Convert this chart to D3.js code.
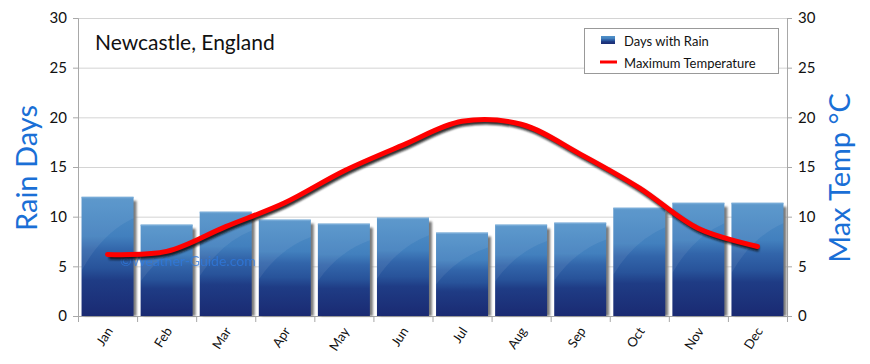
<!DOCTYPE html>
<html><head><meta charset="utf-8">
<script src="https://cdn.jsdelivr.net/npm/d3@7"></script>
<style>
body{margin:0;background:#fff;}
text{font-family:"Comic Sans MS","Lato","DejaVu Sans",sans-serif;}
</style></head>
<body><svg id="c" width="870" height="364"></svg>
<script>
const months = ["Jan","Feb","Mar","Apr","May","Jun","Jul","Aug","Sep","Oct","Nov","Dec"];
const rainDays = [12.0, 9.2, 10.5, 9.7, 9.3, 9.9, 8.4, 9.2, 9.4, 10.9, 11.4, 11.4];
const maxTemp = [6.2, 6.5, 9.0, 11.4, 14.6, 17.2, 19.6, 19.3, 16.3, 12.9, 8.8, 7.0];
const yTicks = [0,5,10,15,20,25,30];
const title = "Newcastle, England";
const seriesNames = ["Days with Rain","Maximum Temperature"];

const svg = d3.select("#c");
const L = 78, R = 787, T = 18, B = 316;
const x = d3.scaleBand().domain(months).range([L,R]).paddingInner(0.12).paddingOuter(0.06);
const yL = d3.scaleLinear().domain([0,30]).range([B,T]);
const yR = d3.scaleLinear().domain([0,30]).range([B,T]);

const defs = svg.append("defs");
const g1 = defs.append("linearGradient").attr("id","barG").attr("x1",0).attr("y1",0).attr("x2",0).attr("y2",1);
[[0,"#5292c9"],[0.33,"#4280be"],[0.45,"#3265aa"],[0.6,"#28539a"],[0.7,"#1f3c85"],[1,"#1a2a72"]]
  .forEach(([o,c])=>g1.append("stop").attr("offset",o).attr("stop-color",c));
const sh = defs.append("filter").attr("id","sh").attr("x","-20%").attr("y","-20%").attr("width","150%").attr("height","150%");
sh.append("feGaussianBlur").attr("stdDeviation",1.2);
const lsh = defs.append("filter").attr("id","lsh").attr("x","-10%").attr("y","-20%").attr("width","120%").attr("height","150%");
lsh.append("feGaussianBlur").attr("stdDeviation",1.3);

// grid
svg.append("g").selectAll("line").data(yTicks).join("line")
  .attr("x1",L).attr("x2",R).attr("y1",d=>yL(d)+0.5).attr("y2",d=>yL(d)+0.5)
  .attr("stroke","#d4d4d4").attr("stroke-width",1);

// axes
const axL = svg.append("g").attr("transform",`translate(${L},0)`)
  .call(d3.axisLeft(yL).tickValues(yTicks).tickSize(5).tickPadding(6));
const axR = svg.append("g").attr("transform",`translate(${R},0)`)
  .call(d3.axisRight(yR).tickValues(yTicks).tickSize(5).tickPadding(6));
[axL,axR].forEach(a=>{
  a.select(".domain").attr("stroke","#a8a8a8");
  a.selectAll(".tick line").attr("stroke","#a8a8a8");
  a.selectAll(".tick text").attr("fill","#111").attr("font-size",15)
   .style("font-family",'"Comic Sans MS","Lato","DejaVu Sans",sans-serif');
});
const axB = svg.append("g").attr("transform",`translate(0,${B})`)
  .call(d3.axisBottom(x).tickSize(0).tickPadding(0));
axB.select(".domain").attr("stroke","#a8a8a8");
axB.selectAll(".tick text").remove();
const bounds = months.map((m,i)=> x(m) - x.step()*x.paddingInner()/2);
bounds.push(R);
bounds[0] = L;
svg.append("g").selectAll("line").data(bounds).join("line")
  .attr("x1",d=>d+0.5).attr("x2",d=>d+0.5).attr("y1",B).attr("y2",B+6).attr("stroke","#a8a8a8");
// month labels
svg.append("g").selectAll("text").data(months).join("text")
  .attr("transform",d=>`translate(${x(d)+x.bandwidth()/2+6},${B+15}) rotate(-57)`)
  .attr("text-anchor","end").attr("font-size",13).attr("fill","#111").text(d=>d);

// bars
const bars = svg.append("g");
bars.selectAll("rect.s").data(rainDays).join("rect").attr("class","s")
  .attr("x",(d,i)=>x(months[i])+3).attr("y",d=>yL(d)+4)
  .attr("width",x.bandwidth()).attr("height",d=>B-yL(d)-4)
  .attr("fill","#7a7a7a").attr("filter","url(#sh)");
bars.selectAll("rect.b").data(rainDays).join("rect").attr("class","b")
  .attr("x",(d,i)=>x(months[i])).attr("y",d=>yL(d))
  .attr("width",x.bandwidth()).attr("height",d=>B-yL(d))
  .attr("fill","url(#barG)");
bars.selectAll("path.gl").data(rainDays).join("path").attr("class","gl")
  .attr("d",(d,i)=>{
    const x0=x(months[i]), w=x.bandwidth(), y0=yL(d), h=B-yL(d);
    return `M${x0},${y0} L${x0+w},${y0} L${x0+w},${y0+h*0.18} Q${x0+w*0.4},${y0+h*0.3} ${x0},${y0+h*0.62} Z`;
  }).attr("fill","#ffffff").attr("opacity",0.07);
bars.selectAll("rect.top").data(rainDays).join("rect").attr("class","top")
  .attr("x",(d,i)=>x(months[i])).attr("y",d=>yL(d))
  .attr("width",x.bandwidth()).attr("height",1.5).attr("fill","#7fb0dc").attr("opacity",0.7);

// watermark
svg.append("text").attr("x",120).attr("y",266).attr("font-size",14)
  .attr("fill","#2f7ae0").attr("opacity",0.75).text("©Weather-Guide.com");

// line
const line = d3.line().x((d,i)=>x(months[i])+x.bandwidth()/2).y(d=>yR(d)).curve(d3.curveCatmullRom.alpha(0.5));
svg.append("path").datum(maxTemp).attr("d",line).attr("fill","none")
  .attr("stroke","#111").attr("stroke-width",5).attr("opacity",0.85)
  .attr("transform","translate(1.5,2.5)").attr("filter","url(#lsh)");
svg.append("path").datum(maxTemp).attr("d",line).attr("fill","none")
  .attr("stroke","#ff0000").attr("stroke-width",5).attr("stroke-linecap","round");

// title
svg.append("text").attr("x",95).attr("y",50).attr("font-size",21).attr("fill","#111").text(title);

// legend
const lg = svg.append("g");
lg.append("rect").attr("x",584.5).attr("y",28.5).attr("width",194).attr("height",45)
  .attr("fill","#fff").attr("stroke","#999");
lg.append("rect").attr("x",601).attr("y",36).attr("width",14).attr("height",8).attr("fill","url(#barG)");
lg.append("text").attr("x",624).attr("y",46).attr("font-size",13).attr("fill","#111").text(seriesNames[0]);
lg.append("line").attr("x1",600).attr("x2",617).attr("y1",62).attr("y2",62).attr("stroke","#ff0000").attr("stroke-width",3);
lg.append("text").attr("x",624).attr("y",68).attr("font-size",13).attr("fill","#111").text(seriesNames[1]);

// axis titles
svg.append("text").attr("transform","translate(37,168) rotate(-90)").attr("text-anchor","middle")
  .attr("font-size",29).attr("fill","#1a6fd6").text("Rain Days");
svg.append("text").attr("transform","translate(850,178) rotate(-90)").attr("text-anchor","middle")
  .attr("font-size",29).attr("fill","#1a6fd6").text("Max Temp °C");
</script></body></html>
